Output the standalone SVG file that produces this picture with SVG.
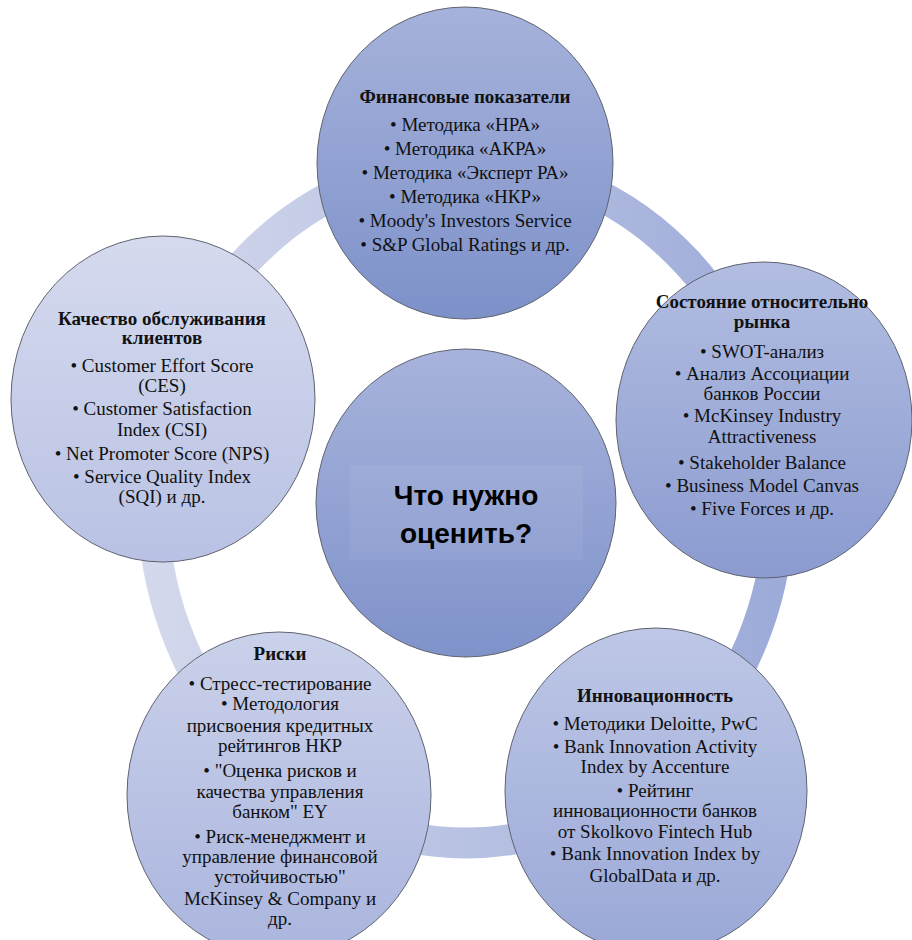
<svg xmlns="http://www.w3.org/2000/svg" width="912" height="940" viewBox="0 0 912 940">
<style>
.node{stroke:#5f6370;stroke-width:1}
.t{font-family:"Liberation Serif","Times New Roman",serif;font-size:19px;fill:#111;text-anchor:middle}
.h{font-weight:bold}
.c{font-family:"Liberation Sans",Arial,sans-serif;font-size:28px;font-weight:bold;fill:#000;text-anchor:middle}
</style>
<defs>
<linearGradient id="gTop" x1="0" y1="0" x2="0" y2="1"><stop offset="0" stop-color="#a6b2db"/><stop offset="1" stop-color="#7d91c9"/></linearGradient>
<linearGradient id="gR" x1="0" y1="0" x2="0" y2="1"><stop offset="0" stop-color="#b2bde1"/><stop offset="1" stop-color="#8b9bd0"/></linearGradient>
<linearGradient id="gBR" x1="0" y1="0" x2="0" y2="1"><stop offset="0" stop-color="#bec7e6"/><stop offset="1" stop-color="#9aa8d7"/></linearGradient>
<linearGradient id="gBL" x1="0" y1="0" x2="0" y2="1"><stop offset="0" stop-color="#cad1ea"/><stop offset="1" stop-color="#aab5de"/></linearGradient>
<linearGradient id="gL" x1="0" y1="0" x2="0" y2="1"><stop offset="0" stop-color="#d5daee"/><stop offset="1" stop-color="#b9c2e4"/></linearGradient>
<linearGradient id="gC" x1="0" y1="0" x2="0" y2="1"><stop offset="0" stop-color="#a7b3dc"/><stop offset="1" stop-color="#7f92ca"/></linearGradient>
<linearGradient id="gRing" x1="0" y1="0" x2="1" y2="0"><stop offset="0" stop-color="#d3d8ec"/><stop offset="1" stop-color="#9dabd9"/></linearGradient>
</defs>
<rect width="912" height="940" fill="#ffffff"/>
<g id="connectors">
<ellipse cx="466" cy="503" rx="313" ry="340" fill="none" stroke="url(#gRing)" stroke-width="31"/>
</g>
<g id="node-top">
<ellipse class="node" cx="465" cy="163" rx="148" ry="156" fill="url(#gTop)"/>
<text class="t h" x="465" y="103">Финансовые показатели</text>
<text class="t" x="465" y="131">• Методика «НРА»</text>
<text class="t" x="465" y="155">• Методика «АКРА»</text>
<text class="t" x="465" y="179">• Методика «Эксперт РА»</text>
<text class="t" x="465" y="203">• Методика «НКР»</text>
<text class="t" x="465" y="227">• Moody's Investors Service</text>
<text class="t" x="465" y="251">• S&amp;P Global Ratings и др.</text>
</g>
<g id="node-right">
<ellipse class="node" cx="764" cy="420" rx="148" ry="158" fill="url(#gR)"/>
<text class="t h" x="762" y="308">Состояние относительно</text>
<text class="t h" x="762" y="328">рынка</text>
<text class="t" x="762" y="358">• SWOT-анализ</text>
<text class="t" x="762" y="380">• Анализ Ассоциации</text>
<text class="t" x="762" y="400">банков России</text>
<text class="t" x="762" y="422">• McKinsey Industry</text>
<text class="t" x="762" y="443">Attractiveness</text>
<text class="t" x="762" y="469">• Stakeholder Balance</text>
<text class="t" x="762" y="492">• Business Model Canvas</text>
<text class="t" x="762" y="515">• Five Forces и др.</text>
</g>
<g id="node-bottom-right">
<ellipse class="node" cx="656" cy="791" rx="151" ry="163" fill="url(#gBR)"/>
<text class="t h" x="655" y="702">Инновационность</text>
<text class="t" x="655" y="730">• Методики Deloitte, PwC</text>
<text class="t" x="655" y="753">• Bank Innovation Activity</text>
<text class="t" x="655" y="773">Index by Accenture</text>
<text class="t" x="655" y="797">• Рейтинг</text>
<text class="t" x="655" y="817">инновационности банков</text>
<text class="t" x="655" y="838">от Skolkovo Fintech Hub</text>
<text class="t" x="655" y="860">• Bank Innovation Index by</text>
<text class="t" x="655" y="882">GlobalData и др.</text>
</g>
<g id="node-bottom-left">
<ellipse class="node" cx="279" cy="795" rx="152" ry="163" fill="url(#gBL)"/>
<text class="t h" x="280" y="660">Риски</text>
<text class="t" x="280" y="690">• Стресс-тестирование</text>
<text class="t" x="280" y="710">• Методология</text>
<text class="t" x="280" y="732">присвоения кредитных</text>
<text class="t" x="280" y="752">рейтингов НКР</text>
<text class="t" x="280" y="777">• "Оценка рисков и</text>
<text class="t" x="280" y="798">качества управления</text>
<text class="t" x="280" y="818">банком" EY</text>
<text class="t" x="280" y="843">• Риск-менеджмент и</text>
<text class="t" x="280" y="863">управление финансовой</text>
<text class="t" x="280" y="883">устойчивостью"</text>
<text class="t" x="280" y="905">McKinsey &amp; Company и</text>
<text class="t" x="280" y="925">др.</text>
</g>
<g id="node-left">
<ellipse class="node" cx="163" cy="399" rx="152" ry="163" fill="url(#gL)"/>
<text class="t h" x="162" y="325">Качество обслуживания</text>
<text class="t h" x="162" y="344">клиентов</text>
<text class="t" x="162" y="372">• Customer Effort Score</text>
<text class="t" x="162" y="392">(CES)</text>
<text class="t" x="162" y="415">• Customer Satisfaction</text>
<text class="t" x="162" y="436">Index (CSI)</text>
<text class="t" x="162" y="460">• Net Promoter Score (NPS)</text>
<text class="t" x="162" y="483">• Service Quality Index</text>
<text class="t" x="162" y="503">(SQI) и др.</text>
</g>
<g id="node-center">
<ellipse class="node" cx="466" cy="503" rx="150" ry="154" fill="url(#gC)"/>
<rect x="350" y="465" width="233" height="95" fill="#ffffff" fill-opacity="0.06"/>
<text class="c" x="466" y="505">Что нужно</text>
<text class="c" x="466" y="543">оценить?</text>
</g>
</svg>
